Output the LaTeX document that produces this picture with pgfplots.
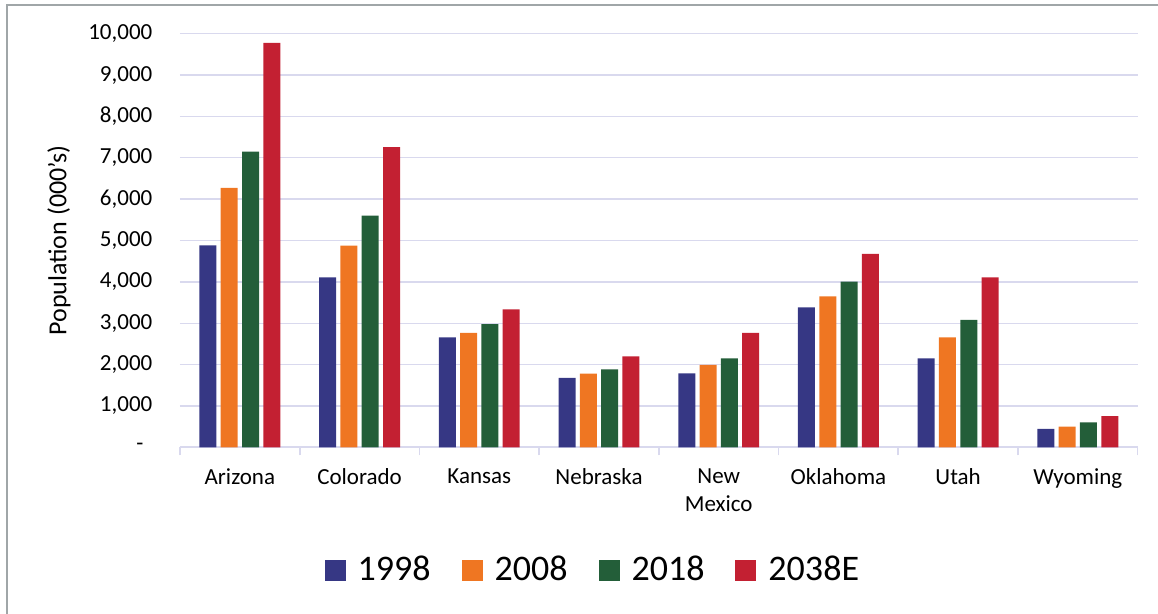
\documentclass[border=0pt]{standalone}
\usepackage{fontspec}
\setmainfont{Carlito}
\usepackage{pgfplots}
\pgfplotsset{compat=1.18}
\definecolor{cBlue}{RGB}{54,55,132}
\definecolor{cOrange}{RGB}{239,118,34}
\definecolor{cGreen}{RGB}{35,94,57}
\definecolor{cRed}{RGB}{195,32,50}
\definecolor{cGrid}{RGB}{217,217,238}
\definecolor{cBorder}{RGB}{160,166,168}
\begin{document}
\begin{tikzpicture}
\useasboundingbox (0,0) rectangle (579pt,307pt);
\draw[color=cBorder, line width=1pt] (3.35pt,0) -- (3.35pt,304.65pt) -- (579pt,304.65pt);
\begin{axis}[
  at={(90pt,83.35pt)}, anchor=south west,
  scale only axis, width=478.85pt, height=206.8pt,
  ybar=2.15pt, bar width=8.5pt,
  xmin=-0.5, xmax=7.5, ymin=0, ymax=10000,
  scaled y ticks=false,
  xtick={0,...,7},
  xticklabels={Arizona,Colorado,Kansas,Nebraska,New\\Mexico,Oklahoma,Utah,Wyoming},
  minor xtick={-0.5,0.5,...,7.5},
  ytick={0,1000,...,10000},
  yticklabels={{-\rule{4.5pt}{0pt}},{1,000},{2,000},{3,000},{4,000},{5,000},{6,000},{7,000},{8,000},{9,000},{10,000}},
  axis x line*=bottom, axis y line*=left,
  y axis line style={draw=none},
  x axis line style={draw=cGrid, line width=0.8pt},
  major tick length=0pt, minor tick length=4pt, tick align=outside,
  major tick style={draw=none},
  minor tick style={draw=cGrid, line width=0.8pt},
  ymajorgrids, grid style={draw=cGrid, line width=0.7pt},
  xticklabel style={font=\fontsize{11.5}{14}\selectfont, align=center, yshift=-7pt},
  yticklabel style={font=\fontsize{11.5}{14}\selectfont, xshift=-10.3pt},
  ylabel={Population (000's)},
  ylabel style={at={(axis description cs:-0.1263,0.5)}, anchor=center, font=\fontsize{13}{15}\selectfont},
  legend columns=4,
  legend style={at={(axis description cs:0.43,-0.2967)}, anchor=center, draw=none, fill=none,
    font=\fontsize{18}{21}\selectfont, nodes={inner sep=0pt},
    /tikz/every odd column/.append style={column sep=6pt},
    /tikz/every even column/.append style={column sep=15.5pt}},
  legend image code/.code={\fill[#1] (0pt,-5.25pt) rectangle (10.5pt,5.25pt);},
]
\addplot[fill=cBlue, draw=none] coordinates {(0,4880) (1,4110) (2,2660) (3,1680) (4,1790) (5,3385) (6,2150) (7,445)};
\addplot[fill=cOrange, draw=none] coordinates {(0,6270) (1,4875) (2,2765) (3,1780) (4,1990) (5,3650) (6,2660) (7,500)};
\addplot[fill=cGreen, draw=none] coordinates {(0,7150) (1,5600) (2,2980) (3,1885) (4,2150) (5,4005) (6,3080) (7,605)};
\addplot[fill=cRed, draw=none] coordinates {(0,9775) (1,7260) (2,3335) (3,2200) (4,2765) (5,4675) (6,4110) (7,755)};
\legend{1998,2008,2018,2038E}
\end{axis}
\end{tikzpicture}
\end{document}
